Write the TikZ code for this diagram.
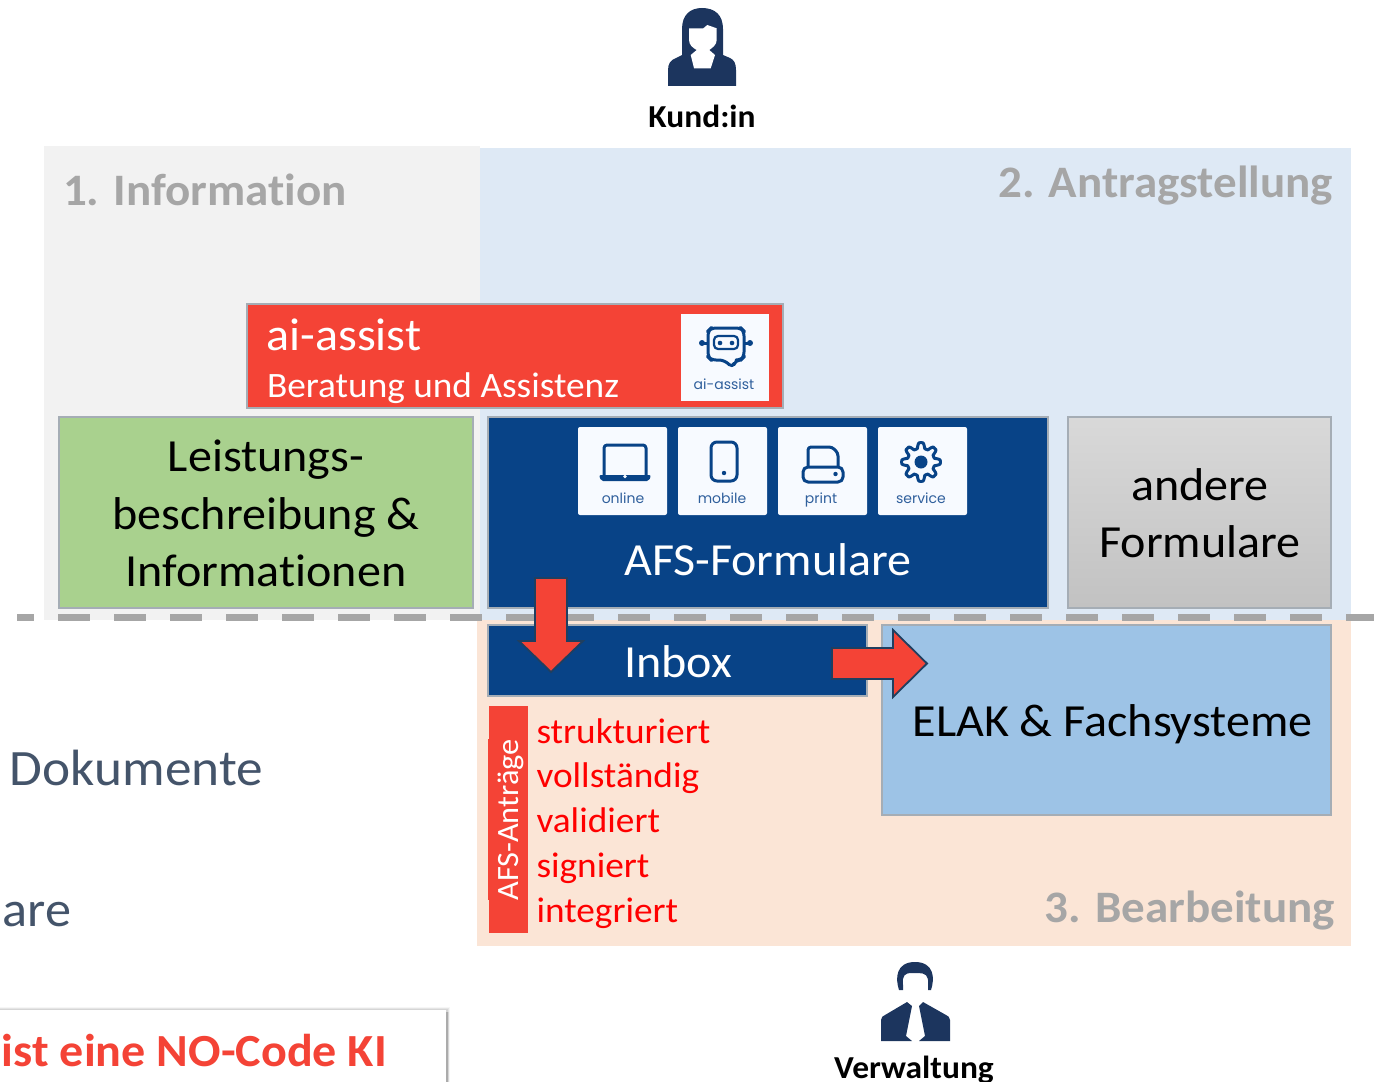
\documentclass[tikz,border=0pt]{standalone}
\usepackage{fontspec}
\setmainfont[FakeStretch=1.045,Ligatures=NoCommon]{Carlito}
\newfontfamily\popfont{Poppins}
\definecolor{regGrey}{HTML}{F2F2F2}
\definecolor{regBlue}{HTML}{DEE9F5}
\definecolor{regPeach}{HTML}{FBE5D6}
\definecolor{titleGrey}{HTML}{A6A6A6}
\definecolor{aiRed}{HTML}{F44336}
\definecolor{afsBlue}{HTML}{084387}
\definecolor{leafGreen}{HTML}{A9D18E}
\definecolor{elakBlue}{HTML}{9DC3E6}
\definecolor{cardWhite}{HTML}{F7FAFF}
\definecolor{iconText}{HTML}{2F5F9C}
\definecolor{person}{HTML}{1C355E}
\definecolor{slate}{HTML}{44546A}
\definecolor{edgeGrey}{HTML}{A5ADB5}
\definecolor{arrowEdge}{HTML}{1F3F60}
\newcommand{\fs}[1]{\fontsize{\dimexpr#1pt/2\relax}{\dimexpr#1pt/2\relax}\selectfont}
\tikzset{
  x=0.5pt,y=-0.5pt,
  region/.style={fill=#1,draw=none},
  boxn/.style={draw=edgeGrey,line width=0.6pt,inner sep=0pt,outer sep=0pt,text=black,align=center},
  lab/.style={inner sep=0pt,outer sep=0pt,anchor=base},
  labw/.style={inner sep=0pt,outer sep=0pt,anchor=base west},
  labe/.style={inner sep=0pt,outer sep=0pt,anchor=base east},
  card/.style={fill=cardWhite,rounded corners=1pt,draw=none},
  icon/.style={draw=afsBlue,line width=1.5pt,line join=round,fill=none},
  icondot/.style={fill=afsBlue,draw=none},
  cardlab/.style={inner sep=0pt,anchor=base,text=iconText,font=\popfont\fs{14}},
  blockarrow/.style={fill=aiRed,draw=arrowEdge,line width=0.9pt,line join=miter},
  personfill/.style={fill=person,draw=none},
  title/.style={text=titleGrey,font=\bfseries\fs{45}},
  redline/.style={labw,text=red,font=\fs{35.7}},
  whitetext/.style={text=white}
}
\begin{document}
\begin{tikzpicture}
\useasboundingbox (0,0) rectangle (1374,1081);
\clip (0,0) rectangle (1374,1081);
% regions
\fill[region=regGrey] (44,146) rectangle (480,620);
\fill[region=regBlue] (480,148) rectangle (1351,620);
\fill[region=regPeach] (477,620) rectangle (1351,946);
% dashed line
\draw[draw=titleGrey,line width=3.5pt,dash pattern=on 16pt off 12pt,dash phase=7.5pt] (17,617) -- (1374,617);
% region titles
\node[labw,title] (t1) at (63,205) {1. Information};
\node[labe,title] (t2) at (1333,197) {2. Antragstellung};
\node[labe,title] (t3) at (1335,922) {3. Bearbeitung};
% persons
\fill[personfill] (668,86) -- (668,70) .. controls (668,63) and (671,60) .. (676,58) -- (682,55) -- (682,29) .. controls (682,15) and (690,8) .. (702,8) .. controls (715,8) and (723,15) .. (723,29) -- (723,55) -- (730,58) .. controls (734,60) and (736,63) .. (736,70) -- (736,86) -- cycle;
\fill[white] (689,28.3) -- (703.3,28.3) -- (707.3,25) -- (716.7,28.3) -- (716.7,40) .. controls (716.7,45) and (712,48) .. (709.3,50) -- (715,55) -- (710.7,68.3) -- (694,68.3) -- (690.7,55) -- (696.7,50) .. controls (693,48) and (689,45) .. (689,40) -- cycle;
\node[lab,font=\bfseries\fs{32}] (kunde) at (702,127) {Kund:in};
\fill[personfill] (899,990) .. controls (895,978) and (896,962) .. (915,962) .. controls (934,962) and (935,978) .. (931,990) -- (928,990) -- (928,985) .. controls (929,975) and (925,973) .. (918,973) -- (912,973) .. controls (905,973) and (902,975) .. (903,985) -- (903,990) -- cycle;
\fill[personfill] (881,1041) -- (881,1020) .. controls (881,1017) and (883,1016) .. (885,1015) -- (907,1002) -- (912,1006) -- (906,1036) -- (912,1041) -- cycle;
\fill[personfill] (950,1041) -- (950,1020) .. controls (950,1017) and (948,1016) .. (946,1015) -- (923,1002) -- (919,1006) -- (925,1036) -- (919,1041) -- cycle;
\node[lab,font=\bfseries\fs{32}] (verw) at (914,1078) {Verwaltung};
% ai-assist
\node[boxn,fill=aiRed,minimum width=268pt,minimum height=52pt] (ai) at (515,356) {};
\node[labw,whitetext,font=\fs{46}] (ait) at (266.5,350) {ai-assist};
\node[labw,whitetext,font=\fs{35.7}] (ais) at (267,397) {Beratung und Assistenz};
\fill[cardWhite] (681,314) rectangle (769,401);
\draw[icon,rounded corners=2.5pt] (711,328) -- (741,328) -- (744,331) -- (744,357) -- (741,360) -- (735,360) -- (733,368) -- (724,360) -- (711,360) -- (708,357) -- (708,331) -- cycle;
\draw[icon,line width=1.1pt,rounded corners=2pt] (714,336) rectangle (738,349);
\fill[icondot] (720,343) circle (2.3) (732,343) circle (2.3) (702,343) circle (3) (750,343) circle (3);
\draw[icon] (702,343) -- (708,343) (744,343) -- (750,343);
\node[cardlab] (aicard) at (724,389) {ai-assist};
% three upper boxes
\node[boxn,fill=leafGreen,minimum width=207pt,minimum height=95.5pt] (leist) at (266,512.5) {};
\node[lab,font=\fs{46}] (l1) at (266,471) {Leistungs-};
\node[lab,font=\fs{46}] (l2) at (266,529) {beschreibung \&};
\node[lab,font=\fs{46}] (l3) at (266,586) {Informationen};
\node[boxn,fill=afsBlue,minimum width=280pt,minimum height=95.5pt] (afs) at (768,512.5) {};
\node[lab,whitetext,font=\fs{46}] (afst) at (768,575) {AFS-Formulare};
\node[boxn,top color=black!15,bottom color=black!24,minimum width=131.5pt,minimum height=95.5pt] (andere) at (1199.5,512.5) {};
\node[lab,font=\fs{46}] (a1) at (1200,500) {andere};
\node[lab,font=\fs{46}] (a2) at (1200,557) {Formulare};
% cards
\fill[card] (578,427) rectangle (667,515);
\fill[card] (678,427) rectangle (767,515);
\fill[card] (778,427) rectangle (867,515);
\fill[card] (878,427) rectangle (967,515);
\draw[icon,rounded corners=1.5pt] (604,475) -- (604,445) -- (646,445) -- (646,475);
\fill[icondot,rounded corners=1pt] (599,475) -- (651,475) -- (649,481) -- (601,481) -- cycle;
\fill[cardWhite] (625,476.5) circle (1.8);
\draw[icon,rounded corners=3pt] (711,442) rectangle (737,481);
\fill[icondot] (724,473) circle (2.2);
\draw[icon,rounded corners=1.5pt] (808,466) -- (808,447) -- (832,447) -- (838,453) -- (838,466);
\draw[icon,rounded corners=2.5pt] (803,467) rectangle (843,482);
\fill[icondot] (835.5,474) circle (2.2);
\draw[icon] plot[variable=\t,samples=121,domain=0:360,smooth] ({921+(16.5+2.8*max(-1,min(1,1.7*cos(8*\t))))*cos(\t)},{462+(16.5+2.8*max(-1,min(1,1.7*cos(8*\t))))*sin(\t)}) -- cycle;
\fill[icondot] (921,462) circle (6.5);
\node[cardlab] (c1) at (623,503) {online};
\node[cardlab] (c2) at (722,503) {mobile};
\node[cardlab] (c3) at (821,503) {print};
\node[cardlab] (c4) at (921,503) {service};
% inbox, ELAK
\node[boxn,fill=elakBlue,minimum width=224.5pt,minimum height=95pt] (elak) at (1106.5,720) {};
\node[lab,font=\fs{46}] (elakt) at (1112.5,736) {ELAK \& Fachsysteme};
\node[boxn,fill=afsBlue,minimum width=189.5pt,minimum height=35.5pt] (inbox) at (677.5,660.5) {};
\node[lab,whitetext,font=\fs{46}] (inboxt) at (678,677) {Inbox};
% block arrows
\draw[blockarrow] (535,578) -- (567,578) -- (567,641) -- (583,641) -- (551,672) -- (519,641) -- (535,641) -- cycle;
\draw[blockarrow] (832,648) -- (893,648) -- (893,630) -- (927,663.5) -- (893,697) -- (893,679) -- (832,679) -- cycle;
% AFS-Anträge
\fill[aiRed] (488,739) rectangle (528,900);
\fill[aiRed] (489,706) rectangle (528,933);
\node[inner sep=0pt,rotate=90,whitetext,font=\fs{31}] (afsa) at (511,820) {AFS-Anträge};
\node[redline] (r1) at (536.5,743) {strukturiert};
\node[redline] (r2) at (536.5,787) {vollständig};
\node[redline] (r3) at (536.5,832) {validiert};
\node[redline] (r4) at (536.5,877) {signiert};
\node[redline] (r5) at (536.5,922) {integriert};
% left side fragments
\node[labw,text=slate,font=\fs{51}] (dok) at (10,785) {Dokumente};
\node[labw,text=slate,font=\fs{50}] (are) at (2.5,926) {are};
% note box with soft shadow
\foreach \w in {0.6,1.2,1.8,2.4,3.0}
  \draw[black,opacity=0.035,line width=\w pt] (-20,1010) rectangle (447,1120);
\foreach \w in {0.6,1.2,1.8}
  \draw[black,opacity=0.07,line width=\w pt] (447,1012) -- (447,1120);
\fill[white] (-20,1010) rectangle (446,1120);
\node[labw,text=aiRed,font=\bfseries\fs{46}] (nocode) at (2,1066) {ist eine NO-Code KI};
\end{tikzpicture}
\end{document}
